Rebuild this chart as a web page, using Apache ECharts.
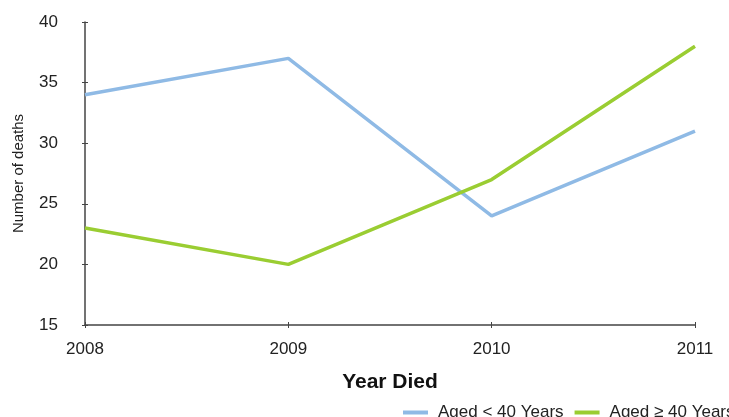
<!DOCTYPE html>
<html><head><meta charset="utf-8">
<script src="https://cdn.jsdelivr.net/npm/echarts@6/dist/echarts.min.js"></script>
<style>html,body{margin:0;padding:0;background:#fff}#c{width:729px;height:417px}</style>
</head><body><div id="c"></div>
<script>
const years = ['2008','2009','2010','2011'];
const under40 = [34, 37, 24, 31];
const over40 = [23, 20, 27, 38];
const seriesNames = ['Aged < 40 Years', 'Aged \u2265 40 Years'];
const yTicks = {min: 15, max: 40, interval: 5};

const chart = echarts.init(document.getElementById('c'));
const font = 'Liberation Sans, Arial, sans-serif';
const axisColor = '#444';
chart.setOption({
  animation: false,
  grid: {left: 85, right: 34, top: 22, bottom: 92, containLabel: false, outerBoundsMode: 'none'},
  xAxis: [{
    type: 'category', data: years, boundaryGap: false,
    name: 'Year Died', nameLocation: 'middle', nameGap: 47,
    nameTextStyle: {fontFamily: font, fontSize: 21, fontWeight: 'bold', color: '#111'},
    axisLine: {lineStyle: {color: axisColor, width: 1.5}},
    axisTick: {show: true, length: 3, inside: false, lineStyle: {color: axisColor}},
    axisLabel: {fontFamily: font, fontSize: 17, color: '#222', margin: 16}
  }, {
    type: 'category', data: years, boundaryGap: false, position: 'bottom',
    axisLine: {show: false},
    axisTick: {show: true, length: 3, inside: true, lineStyle: {color: axisColor}},
    axisLabel: {show: false}
  }],
  yAxis: [{
    type: 'value', min: yTicks.min, max: yTicks.max, interval: yTicks.interval,
    name: 'Number of deaths', nameLocation: 'middle', nameGap: 59, nameRotate: 90,
    nameTextStyle: {fontFamily: font, fontSize: 15, color: '#222'},
    splitLine: {show: false},
    axisLine: {show: true, lineStyle: {color: axisColor, width: 1.5}},
    axisTick: {show: true, length: 3, lineStyle: {color: axisColor}},
    axisLabel: {fontFamily: font, fontSize: 17, color: '#222', margin: 27}
  }, {
    type: 'value', min: yTicks.min, max: yTicks.max, interval: yTicks.interval, position: 'left',
    splitLine: {show: false},
    axisLine: {show: false},
    axisTick: {show: true, length: 3, inside: true, lineStyle: {color: axisColor}},
    axisLabel: {show: false}
  }],
  legend: {
    left: 398, top: 399, width: 600, itemGap: 11, itemWidth: 25, itemHeight: 4,
    icon: 'rect',
    textStyle: {fontFamily: font, fontSize: 17, color: '#222', padding: [0, 0, 0, 5]},
    data: seriesNames
  },
  series: [
    {name: seriesNames[0], type: 'line', data: under40, symbol: 'none',
     lineStyle: {width: 3.5, color: '#8FBAE5'}, itemStyle: {color: '#8FBAE5'}},
    {name: seriesNames[1], type: 'line', data: over40, symbol: 'none',
     lineStyle: {width: 3.5, color: '#9ACD32'}, itemStyle: {color: '#9ACD32'}}
  ]
});
</script></body></html>
